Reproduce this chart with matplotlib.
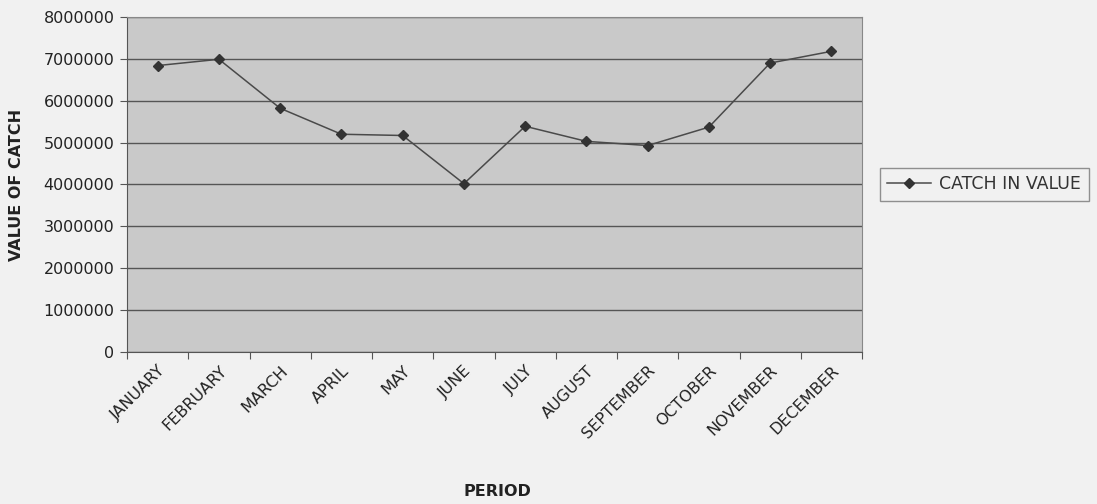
import numpy as np
import matplotlib.pyplot as plt
from matplotlib.ticker import FixedLocator, NullFormatter

months = ["JANUARY", "FEBRUARY", "MARCH", "APRIL", "MAY", "JUNE", "JULY",
          "AUGUST", "SEPTEMBER", "OCTOBER", "NOVEMBER", "DECEMBER"]
catch_value = [6840000, 6990000, 5820000, 5200000, 5170000, 4020000, 5390000,
               5030000, 4930000, 5370000, 6900000, 7180000]
y_ticks = [0, 1000000, 2000000, 3000000, 4000000, 5000000, 6000000, 7000000, 8000000]

plt.rcParams['font.family'] = ['DejaVu Sans']

fig = plt.figure(figsize=(10.97, 5.04), dpi=100)
fig.patch.set_facecolor('#f1f1f1')
ax = fig.add_axes([0.1158, 0.3016, 0.67, 0.6647])
ax.set_facecolor('#c9c9c9')

x = np.arange(len(months))
ax.plot(x, catch_value, color='#4a4a4a', lw=1.1, marker='D', ms=5,
        markerfacecolor='#333333', markeredgecolor='#333333', label='CATCH IN VALUE', zorder=3)

ax.set_xlim(-0.5, len(months) - 0.5)
ax.set_ylim(0, 8000000)
ax.set_yticks(y_ticks)
ax.set_yticklabels([str(v) for v in y_ticks], fontsize=11.5, color='#222222')
ax.yaxis.grid(True, color='#555555', lw=1.0)
ax.set_axisbelow(True)

# ticks between categories, labels at category centres
ax.xaxis.set_major_locator(FixedLocator(np.arange(-0.5, len(months), 1.0)))
ax.xaxis.set_major_formatter(NullFormatter())
ax.xaxis.set_minor_locator(FixedLocator(x))
ax.set_xticklabels(months, minor=True, rotation=45, ha='right', rotation_mode='anchor',
                   fontsize=11.5, color='#222222')
ax.tick_params(axis='x', which='minor', length=0, pad=8)
ax.tick_params(axis='x', which='major', length=5, color='#555555')
ax.tick_params(axis='y', length=5, color='#555555', pad=4)

for side in ['top', 'right']:
    ax.spines[side].set_color('#888888')
for side in ['left', 'bottom']:
    ax.spines[side].set_color('#555555')

ax.set_ylabel('VALUE OF CATCH', fontsize=11.5, fontweight='bold', color='#222222', labelpad=14)
fig.text(497 / 1097, 1 - 491 / 504, 'PERIOD', fontsize=11.5, fontweight='bold',
         color='#222222', ha='center', va='center')

leg = ax.legend(loc='center left', bbox_to_anchor=(1.012, 0.5), fontsize=12.5,
                frameon=True, fancybox=False, edgecolor='#777777', facecolor='#f1f1f1',
                handlelength=2.5, borderpad=0.45, handletextpad=0.5)
leg.get_frame().set_linewidth(1.0)
for t in leg.get_texts():
    t.set_color('#333333')

fig.savefig('out.png', dpi=100, facecolor=fig.get_facecolor())
